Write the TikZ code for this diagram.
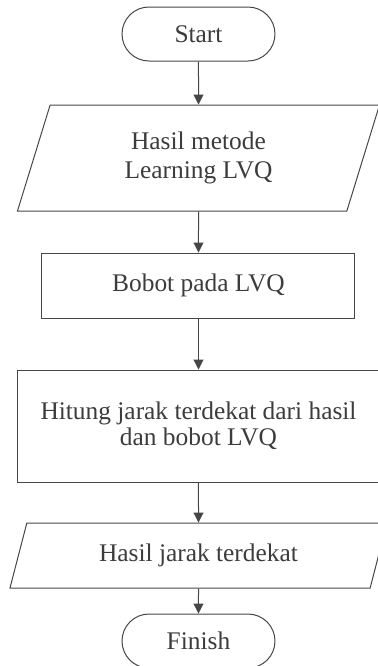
\documentclass[tikz,border=0pt]{standalone}
\usepackage{fontspec}
\setmainfont{Liberation Serif}
\usepackage{xcolor}
\definecolor{flowgrey}{RGB}{70, 70, 70}
\definecolor{textgrey}{RGB}{60, 60, 60}
\usepackage{tikz}
\usetikzlibrary{shapes.geometric, arrows.meta, positioning}

\begin{document}
\begin{tikzpicture}[
    node distance=21.5pt,
    terminal/.style={
        rectangle, draw=flowgrey, line width=0.5pt, rounded corners=13.5pt,
        minimum width=76.5pt, minimum height=27pt, inner sep=2pt,
        font=\fontsize{12.7pt}{15pt}\selectfont, text=textgrey
    },
    process/.style={
        rectangle, draw=flowgrey, line width=0.5pt, align=center, inner sep=2pt,
        font=\fontsize{12.7pt}{14.5pt}\selectfont, text=textgrey
    },
    data/.style={
        trapezium, trapezium left angle=61.5, trapezium right angle=118.5,
        trapezium stretches body, draw=flowgrey, line width=0.5pt, align=center,
        inner sep=2pt, font=\fontsize{12.7pt}{14.5pt}\selectfont, text=textgrey
    },
    flow/.style={
        -{Triangle[length=5pt, width=5pt]}, line width=0.5pt, draw=flowgrey
    }
]

% Page frame (the shapes run past the right edge)
\useasboundingbox (-99.25pt,17pt) rectangle (89.25pt,-316pt);

% Flow nodes, top to bottom
\node[terminal] (start) {Start};

\node[data, below=21.5pt of start, minimum width=181pt, minimum height=53pt] (input) {
    Hasil metode\\
    Learning LVQ
};

\node[process, below=20.5pt of input, minimum width=156.5pt, minimum height=32.5pt] (bobot) {Bobot pada LVQ};

\node[process, below=25.5pt of bobot, minimum width=181pt, minimum height=56pt] (hitung) {
    Hitung jarak terdekat dari hasil\\[-1.5pt]
    dan bobot LVQ
};

\node[data, below=20pt of hitung, minimum width=188.5pt, minimum height=32.5pt] (output) {Hasil jarak terdekat};

\node[terminal, below=12.5pt of output] (finish) {Finish};

% Arrows
\draw[flow] (start) -- (input);
\draw[flow] (input) -- (bobot);
\draw[flow] (bobot) -- (hitung);
\draw[flow] (hitung) -- (output);
\draw[flow] (output) -- (finish);

\end{tikzpicture}
\end{document}
